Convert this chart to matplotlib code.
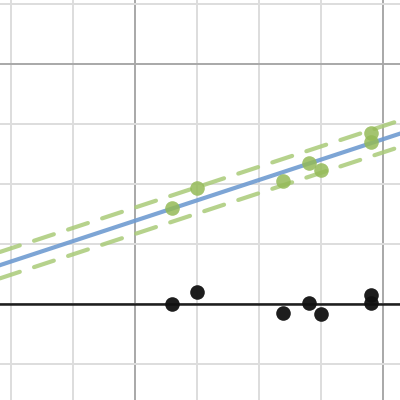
import numpy as np
import matplotlib
matplotlib.use('Agg')
import matplotlib.pyplot as plt
from matplotlib.ticker import MultipleLocator

# data
x_obs = [0.59, 1.0, 2.39, 2.81, 3.0, 3.81, 3.81]
y_obs = [1.60, 1.94, 2.05, 2.36, 2.23, 2.85, 2.71]
resid = [0.0, 0.20, -0.155, 0.012, -0.172, 0.15, 0.012]

fit_intercept = 1.39
fit_slope = 0.34
band = 0.22

xlim = (-2.18, 4.27)
ylim = (-1.6, 5.07)

fig = plt.figure(figsize=(4, 4), dpi=100)
ax = fig.add_axes([0, 0, 1, 1])
ax.set_xlim(*xlim)
ax.set_ylim(*ylim)

ax.xaxis.set_major_locator(MultipleLocator(4))
ax.xaxis.set_minor_locator(MultipleLocator(1))
ax.yaxis.set_major_locator(MultipleLocator(4))
ax.yaxis.set_minor_locator(MultipleLocator(1))
ax.grid(which='minor', color='#dddddd', lw=1.4)
ax.grid(which='major', color='#a8a8a8', lw=1.4)
ax.set_axisbelow(True)
ax.tick_params(which='both', length=0, labelbottom=False, labelleft=False)
for s in ax.spines.values():
    s.set_visible(False)

ax.axhline(0, color='#1e1e1e', lw=1.8, zorder=2)

xs = np.array(xlim)
line = fit_intercept + fit_slope * xs
for off in (band, -band):
    ax.plot(xs, line + off, color='#a9cb78', alpha=0.85, lw=3,
            dashes=(5, 3.6), dash_capstyle='round', zorder=3)
ax.plot(xs, line, color='#6f9bd1', alpha=0.9, lw=3, zorder=4)

ax.plot(x_obs, y_obs, 'o', color='#94ba57', alpha=0.85, ms=10.5, mew=0, zorder=5)
ax.plot(x_obs, resid, 'o', color='#111111', alpha=0.95, ms=10.5, mew=0, zorder=5)

fig.savefig('out.png', dpi=100)
